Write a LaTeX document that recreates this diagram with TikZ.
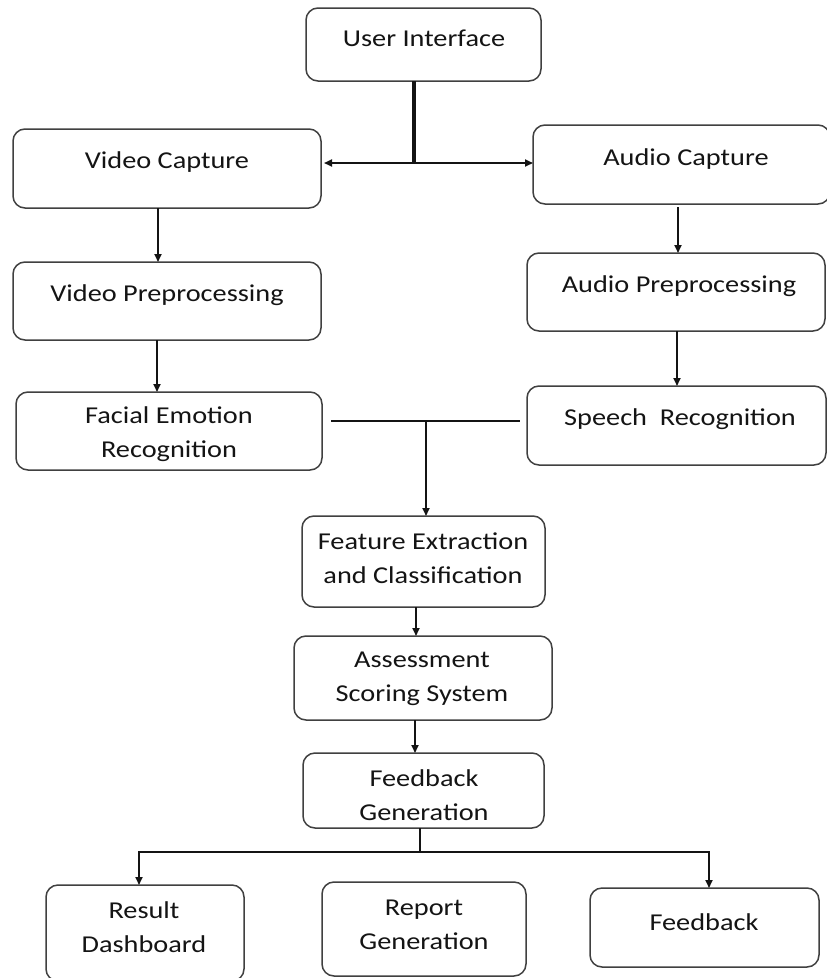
\documentclass[tikz,border=0pt]{standalone}
\usepackage{fontspec}
\setmainfont{Carlito}[FakeStretch=1.17]
\usetikzlibrary{arrows.meta}
\newcommand{\lblfont}{\fontsize{24.2pt}{34pt}\selectfont}
\begin{document}
\begin{tikzpicture}[x=1pt,y=-1pt,
  box/.style={draw=black!75, line width=1.5pt, rounded corners=12pt, inner sep=0pt, outer sep=0pt},
  lbl/.style={font=\lblfont, align=center, inner sep=0pt, text=black!92},
  ln/.style={line width=1.9pt, black!92},
  conn/.style={ln, -{Triangle[length=8pt,width=7pt]}}]
\clip (0,0) rectangle (827,978);
\fill[white] (0,0) rectangle (827,978);
% boxes
\node[box, minimum width=235pt, minimum height=73pt] (ui) at (423.5,44.5) {};
\node[box, minimum width=308pt, minimum height=79pt] (vc) at (167,168.5) {};
\node[box, minimum width=297pt, minimum height=79pt] (ac) at (681.5,164.5) {};
\node[box, minimum width=308pt, minimum height=78pt] (vp) at (167,301) {};
\node[box, minimum width=298pt, minimum height=78pt] (ap) at (676,292) {};
\node[box, minimum width=306pt, minimum height=78pt] (fer) at (169,431) {};
\node[box, minimum width=299pt, minimum height=79pt] (sr) at (676.5,425.5) {};
\node[box, minimum width=243pt, minimum height=91pt] (fec) at (423.5,561.5) {};
\node[box, minimum width=258pt, minimum height=84pt] (ass) at (423,678) {};
\node[box, minimum width=241pt, minimum height=75pt] (fg) at (423.5,790.5) {};
\node[box, minimum width=198pt, minimum height=96pt] (rd) at (145,933) {};
\node[box, minimum width=204pt, minimum height=94pt] (rg) at (424,929) {};
\node[box, minimum width=229pt, minimum height=79pt] (fb) at (704.5,927.5) {};
% labels
\node[lbl] (uit) at (424,38) {User Interface};
\node[lbl] (vct) at (167,162) {Video Capture};
\node[lbl] (act) at (686,159) {Audio Capture};
\node[lbl] (vpt) at (167,295) {Video Preprocessing};
\node[lbl] (apt) at (679,286) {Audio Preprocessing};
\node[lbl] (fert) at (169,434) {Facial Emotion\\Recognition};
\node[lbl] (srt) at (680,419) {Speech\ \ Recognition};
\node[lbl] (fect) at (423,558.5) {Feature Extraction\\and Classification};
\node[lbl] (asst) at (422,678.5) {Assessment\\Scoring System};
\node[lbl] (fgt) at (424,795) {Feedback\\Generation};
\node[lbl] (rdt) at (144,927.5) {Result\\Dashboard};
\node[lbl] (rgt) at (424,924.5) {Report\\Generation};
\node[lbl] (fbt) at (704,922) {Feedback};
% connectors
\coordinate (j1) at (414,163);
\draw[ln, line width=3.8pt] (j1 |- ui.south) -- (j1);
\draw[conn] (j1) -- ([xshift=3pt]j1 -| vc.east);
\draw[conn] (j1) -- (j1 -| ac.west);
\draw[conn] ([xshift=-9pt]vc.south) -- ([xshift=-9pt]vc.south |- vp.north);
\draw[conn] ([xshift=-3.5pt,yshift=-3pt]ac.south) -- ([xshift=-3.5pt]ac.south |- ap.north);
\draw[conn] ([xshift=-10pt]vp.south) -- ([xshift=-10pt]vp.south |- fer.north);
\draw[conn] ([xshift=1pt]ap.south) -- ([xshift=1pt]ap.south |- sr.north);
\coordinate (j2) at (426,421);
\draw[ln] ([xshift=9pt]fer.east |- j2) -- (j2) -- ([xshift=-7pt]sr.west |- j2);
\draw[conn] (j2) -- (j2 |- fec.north);
\draw[conn] ([xshift=-7.5pt]fec.south) -- ([xshift=-7.5pt]fec.south |- ass.north);
\draw[conn] ([xshift=-8pt]ass.south) -- ([xshift=-8pt]ass.south |- fg.north);
\coordinate (j3) at (420,852);
\draw[ln] (j3 |- fg.south) -- (j3);
\draw[conn] (j3) -- (139,852) -- (139,852 |- rd.north);
\draw[conn] (j3) -- (709,852) -- (709,852 |- fb.north);
\end{tikzpicture}
\end{document}
